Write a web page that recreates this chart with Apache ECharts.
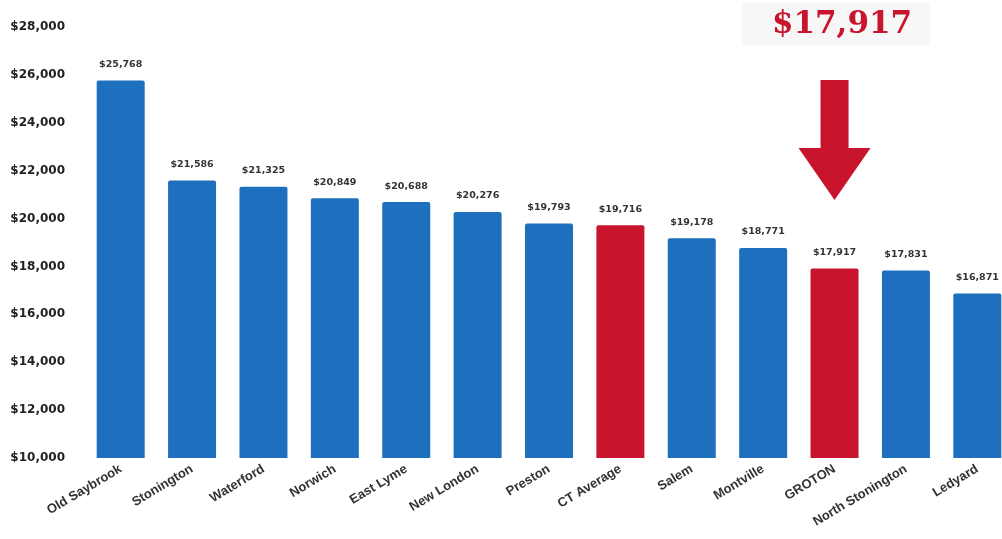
<!DOCTYPE html>
<html><head><meta charset="utf-8">
<script src="https://cdn.jsdelivr.net/npm/echarts@6/dist/echarts.min.js"></script>
<style>html,body{margin:0;padding:0;background:#fff}#c{width:1002px;height:539px}</style>
</head><body><div id="c"></div>
<script>
const towns = ['Old Saybrook','Stonington','Waterford','Norwich','East Lyme','New London','Preston','CT Average','Salem','Montville','GROTON','North Stonington','Ledyard'];
const spending = [25768,21586,21325,20849,20688,20276,19793,19716,19178,18771,17917,17831,16871];
const highlighted = ['CT Average','GROTON'];
const yTicks = [10000,12000,14000,16000,18000,20000,22000,24000,26000,28000];
const calloutText = '$17,917';

const BLUE = '#1f6fbf', RED = '#c8142c';
const chart = echarts.init(document.getElementById('c'));
const fmt = v => '$' + v.toLocaleString('en-US');
chart.setOption({
  animation: false,
  grid: {left: 85, width: 928, top: 27, bottom: 81, outerBoundsMode: 'none', containLabel: false},
  xAxis: {
    type: 'category', data: towns,
    axisLine: {show: false}, axisTick: {show: false},
    axisLabel: {rotate: 31, color: '#333', fontFamily: 'Liberation Sans', fontWeight: 'bold', fontSize: 13, margin: 10, interval: 0}
  },
  yAxis: {
    type: 'value', min: yTicks[0], max: yTicks[yTicks.length-1], interval: 2000,
    splitLine: {show: false}, axisLine: {show: false}, axisTick: {show: false},
    axisLabel: {formatter: v => fmt(v), color: '#222', fontFamily: 'DejaVu Sans', fontWeight: 'bold', fontSize: 12, margin: 20}
  },
  series: [{
    type: 'bar', barWidth: 48,
    data: spending.map((v, i) => ({value: v, itemStyle: {color: highlighted.includes(towns[i]) ? RED : BLUE}})),
    itemStyle: {borderRadius: [2,2,0,0]},
    label: {show: true, position: 'top', distance: 11, formatter: p => fmt(p.value), color: '#333', fontFamily: 'DejaVu Sans', fontWeight: 'bold', fontSize: 9.5}
  }]
});
// callout annotation: arrow pointing at GROTON bar
const gx = chart.convertToPixel({xAxisIndex: 0}, 'GROTON');
chart.setOption({
  graphic: [
    {type: 'rect', shape: {x: 742, y: 2, width: 188, height: 44, r: 6}, style: {fill: '#f2f2f2', opacity: 0.6}},
    {type: 'text', x: 842, y: 25, style: {text: calloutText, fill: RED, font: 'bold 31px "DejaVu Serif"', textAlign: 'center', textVerticalAlign: 'middle'}},
    {type: 'polygon', shape: {points: [[gx-14,80],[gx+14,80],[gx+14,148],[gx+36,148],[gx,200],[gx-36,148],[gx-14,148]]}, style: {fill: RED}}
  ]
});
</script></body></html>
